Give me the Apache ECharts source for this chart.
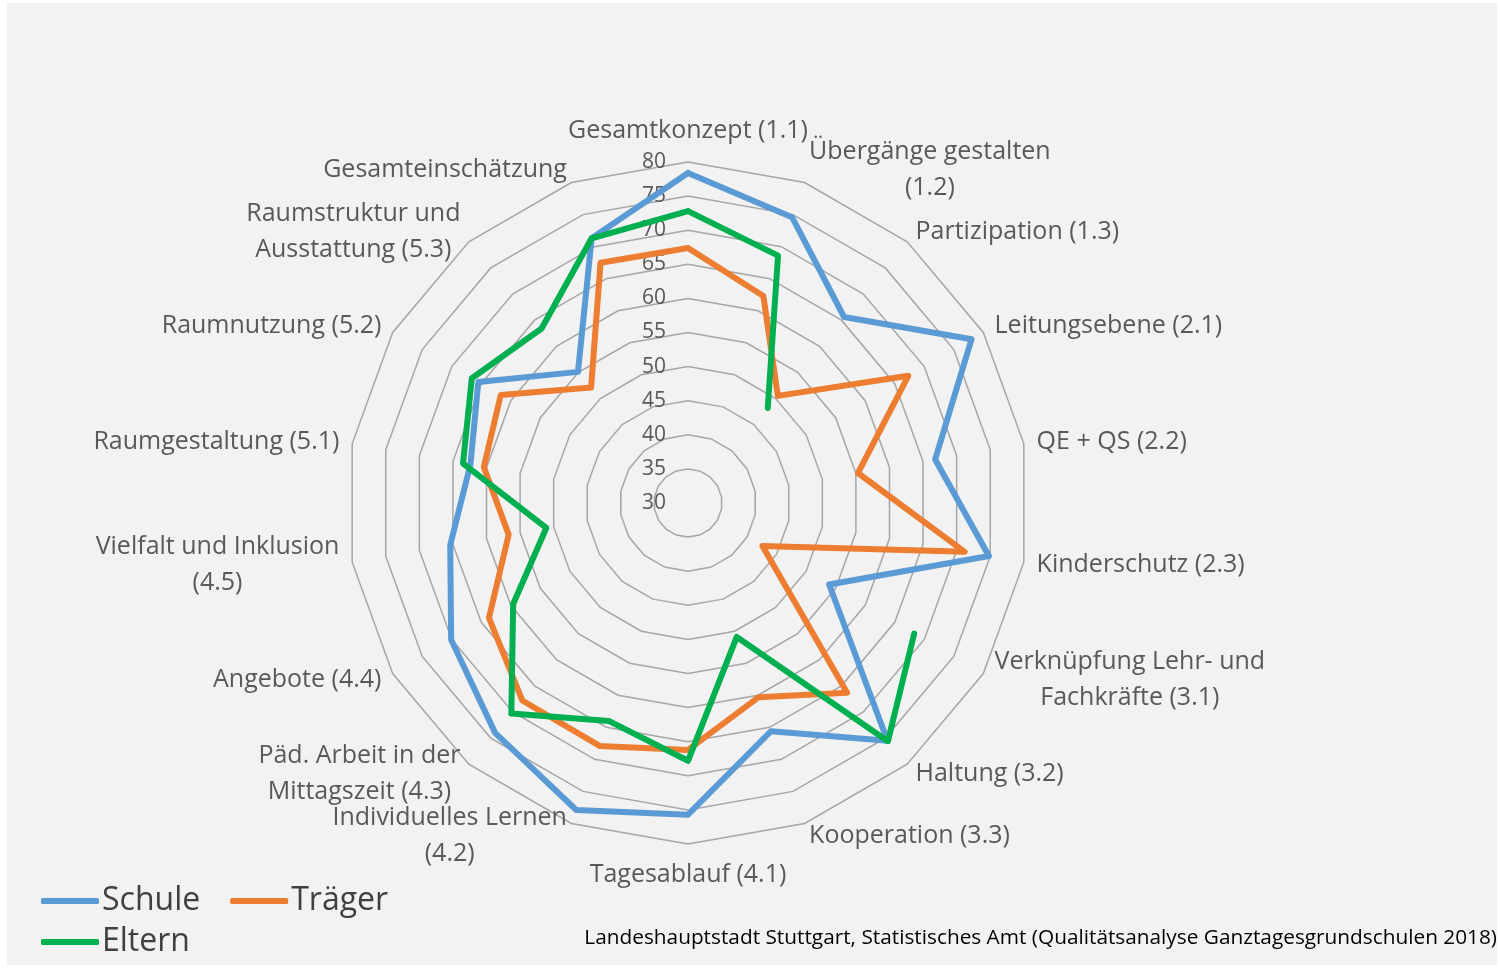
<!DOCTYPE html>
<html>
<head>
<meta charset="utf-8">
<script src="https://cdn.jsdelivr.net/npm/echarts@6/dist/echarts.min.js"></script>
<style>
  html, body { margin: 0; padding: 0; background: #fff; }
  #ChartMain { width: 1500px; height: 968px; }
</style>
</head>
<body>
<div id="ChartMain"></div>
<script>
// Dimensionen (im Uhrzeigersinn, oben beginnend)
var categories = [
    'Gesamtkonzept (1.1)', 'Übergänge gestalten\n(1.2)', 'Partizipation (1.3)',
    'Leitungsebene (2.1)', 'QE + QS (2.2)', 'Kinderschutz (2.3)',
    'Verknüpfung Lehr- und\nFachkräfte (3.1)', 'Haltung (3.2)', 'Kooperation (3.3)',
    'Tagesablauf (4.1)', 'Individuelles Lernen\n(4.2)', 'Päd. Arbeit in der\nMittagszeit (4.3)',
    'Angebote (4.4)', 'Vielfalt und Inklusion\n(4.5)', 'Raumgestaltung (5.1)',
    'Raumnutzung (5.2)', 'Raumstruktur und\nAusstattung (5.3)', 'Gesamteinschätzung'
];
var schule = [78.4, 74.6, 65.6, 78.0, 66.8, 74.8, 53.9, 75.5, 65.6, 75.7, 77.9, 74.0, 70.1, 65.4, 62.4, 65.5, 55.1, 71.3];
var traeger = [67.4, 62.3, 50.5, 67.3, 55.3, 71.2, 42.6, 66.3, 60.3, 66.2, 67.9, 67.8, 63.7, 56.7, 60.4, 61.7, 52.1, 67.5];
var eltern = [72.8, 68.6, 48.2, null, null, null, 68.3, 75.6, 50.9, 67.8, 64.0, 70.3, 59.6, 51.1, 63.5, 66.6, 63.4, 71.3];
var radiusTicks = ['30', '35', '40', '45', '50', '55', '60', '65', '70', '75', '80'];
var sourceText = 'Landeshauptstadt Stuttgart, Statistisches Amt (Qualitätsanalyse Ganztagesgrundschulen 2018)';

var FONT = '"Open Sans", "Noto Sans", sans-serif';
var CENTER = [688, 503];
var RADIUS = 341;

// Werte -> [radius, winkel] auf der Polarachse, Polygon wird geschlossen
function toPolar(vals) {
    var step = 360 / vals.length;
    var pts = vals.map(function (v, i) {
        return [v == null ? '-' : v, i * step];
    });
    pts.push([vals[0] == null ? '-' : vals[0], 360]);
    return pts;
}

function nameLabel(name) {
    return name.split('\n').map(function (l) { return '{c|' + l + '}'; }).join('\n');
}

function GenerateChart() {
    var chart = echarts.init(document.getElementById('ChartMain'));
    // radar läuft gegen den Uhrzeigersinn -> Reihenfolge der Namen umdrehen
    var radarOrder = [categories[0]].concat(categories.slice(1).reverse());
    var lineSeries = function (name, vals, color) {
        return {
            name: name,
            type: 'line',
            coordinateSystem: 'polar',
            data: toPolar(vals),
            symbol: 'none',
            connectNulls: false,
            animation: false,
            lineStyle: { color: color, width: 6, cap: 'round', join: 'round' },
            itemStyle: { color: color }
        };
    };
    var legendBase = {
        left: 36,
        icon: 'roundRect',
        itemWidth: 58,
        itemHeight: 6,
        itemGap: 30,
        textStyle: { fontFamily: FONT, fontSize: 32, color: '#404040', padding: [0, 0, 0, -2] }
    };
    var option = {
        backgroundColor: '#ffffff',
        graphic: [
            { type: 'rect', z: -100, shape: { x: 7, y: 3, width: 1490, height: 962 }, style: { fill: '#f2f2f2' } },
            { type: 'text', right: 3, top: 928, style: { text: sourceText, fontFamily: FONT, fontSize: 20.8, fill: '#000000' } }
        ],
        legend: [
            Object.assign({ top: 880, data: ['Schule', 'Träger'] }, legendBase),
            Object.assign({ top: 921, data: ['Eltern'] }, legendBase)
        ],
        radar: {
            center: CENTER,
            radius: RADIUS,
            startAngle: 90,
            splitNumber: 10,
            shape: 'polygon',
            indicator: radarOrder.map(function (c) { return { name: c, min: 30, max: 80 }; }),
            axisName: {
                formatter: function (n) { return nameLabel(n); },
                color: '#595959',
                fontFamily: FONT,
                fontSize: 25,
                rich: { c: { align: 'center', fontFamily: FONT, fontSize: 25, color: '#595959', lineHeight: 36 } }
            },
            nameGap: 13,
            axisLine: { show: false },
            axisTick: { show: false },
            splitArea: { show: false },
            splitLine: { lineStyle: { color: '#a6a6a6', width: 1.5 } }
        },
        polar: { center: CENTER, radius: RADIUS },
        angleAxis: {
            type: 'value', min: 0, max: 360, startAngle: 90, clockwise: true,
            axisLine: { show: false }, axisTick: { show: false },
            axisLabel: { show: false }, splitLine: { show: false }
        },
        radiusAxis: {
            type: 'value', min: 30, max: 80, interval: 5,
            axisLine: { show: false }, axisTick: { show: false },
            splitLine: { show: false },
            axisLabel: {
                fontFamily: FONT, fontSize: 21, color: '#595959', margin: 22,
                formatter: function (v) { return radiusTicks[(v - 30) / 5]; }
            }
        },
        series: [
            lineSeries('Schule', schule, '#5b9bd5'),
            lineSeries('Träger', traeger, '#ed7d31'),
            lineSeries('Eltern', eltern, '#00b050')
        ]
    };
    chart.setOption(option);
}
GenerateChart();
</script>
</body>
</html>
